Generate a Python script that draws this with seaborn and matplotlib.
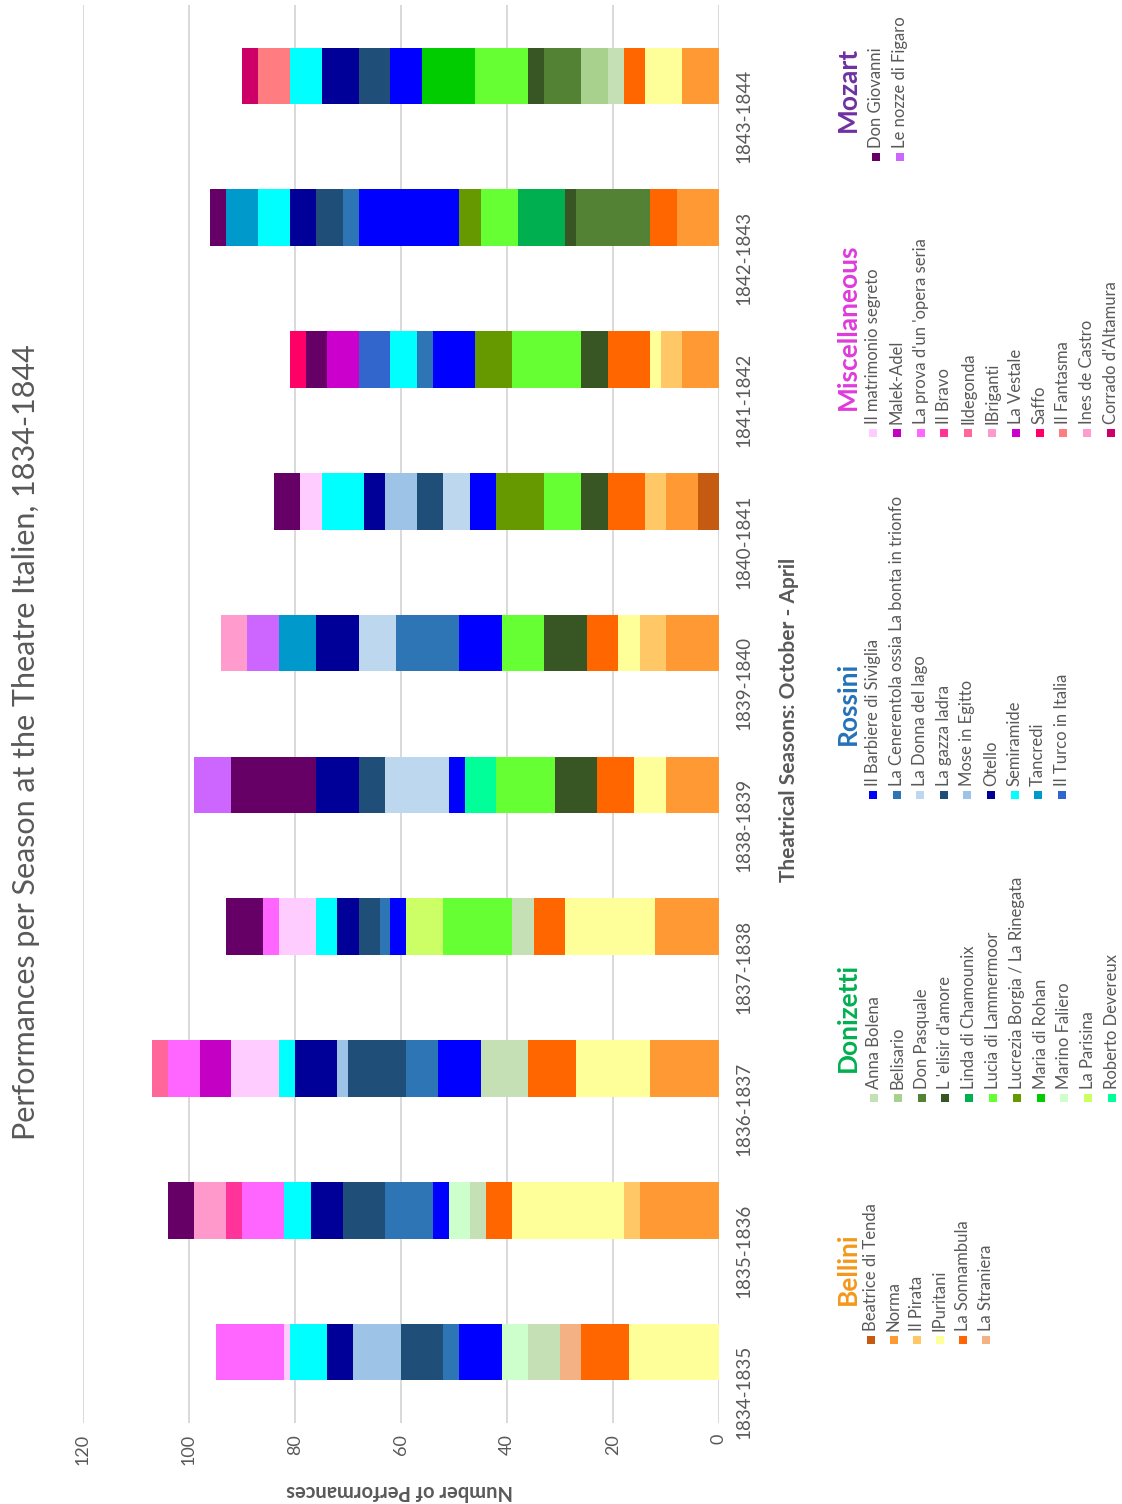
import numpy as np
import pandas as pd
import matplotlib
matplotlib.use("Agg")
import matplotlib.pyplot as plt
from matplotlib.patches import Rectangle
import seaborn as sns

# ---------------------------------------------------------------- data
seasons = ["1834-1835", "1835-1836", "1836-1837", "1837-1838", "1838-1839",
           "1839-1840", "1840-1841", "1841-1842", "1842-1843", "1843-1844"]

bellini = {
    "Beatrice di Tenda": [0, 0, 0, 0, 0, 0, 4, 0, 0, 0],
    "Norma":             [0, 15, 13, 12, 10, 10, 6, 7, 8, 7],
    "Il Pirata":         [0, 3, 0, 0, 0, 5, 4, 4, 0, 0],
    "IPuritani":         [17, 21, 14, 17, 6, 4, 0, 2, 0, 7],
    "La Sonnambula":     [9, 5, 9, 6, 7, 6, 7, 8, 5, 4],
    "La Straniera":      [4, 0, 0, 0, 0, 0, 0, 0, 0, 0],
}
bellini_colors = ["#C55A11", "#FF9933", "#FFC766", "#FFFF99", "#FF6600", "#F4B183"]

donizetti = {
    "Anna Bolena":                   [6, 3, 9, 4, 0, 0, 0, 0, 0, 3],
    "Belisario":                     [0, 0, 0, 0, 0, 0, 0, 0, 0, 5],
    "Don Pasquale":                  [0, 0, 0, 0, 0, 0, 0, 0, 14, 7],
    "L 'elisir d'amore":             [0, 0, 0, 0, 8, 8, 5, 5, 2, 3],
    "Linda di Chamounix":            [0, 0, 0, 0, 0, 0, 0, 0, 9, 0],
    "Lucia di Lammermoor":           [0, 0, 0, 13, 11, 8, 7, 13, 7, 10],
    "Lucrezia Borgia / La Rinegata": [0, 0, 0, 0, 0, 0, 9, 7, 4, 0],
    "Maria di Rohan":                [0, 0, 0, 0, 0, 0, 0, 0, 0, 10],
    "Marino Faliero":                [5, 4, 0, 0, 0, 0, 0, 0, 0, 0],
    "La Parisina":                   [0, 0, 0, 7, 0, 0, 0, 0, 0, 0],
    "Roberto Devereux":              [0, 0, 0, 0, 6, 0, 0, 0, 0, 0],
}
donizetti_colors = ["#C5E0B4", "#A9D18E", "#548235", "#375623", "#00B050", "#66FF33",
                    "#669900", "#00CC00", "#CCFFCC", "#CCFF66", "#00FF99"]

rossini = {
    "Il Barbiere di Siviglia":                      [8, 3, 8, 3, 3, 8, 5, 8, 19, 6],
    "La Cenerentola ossia La bonta in trionfo":     [3, 9, 6, 2, 0, 12, 0, 3, 3, 0],
    "La Donna del lago":                            [0, 0, 0, 0, 12, 7, 5, 0, 0, 0],
    "La gazza ladra":                               [8, 8, 11, 4, 5, 0, 5, 0, 5, 6],
    "Mose in Egitto":                               [9, 0, 2, 0, 0, 0, 6, 0, 0, 0],
    "Otello":                                       [5, 6, 8, 4, 8, 8, 4, 0, 5, 7],
    "Semiramide":                                   [7, 5, 3, 4, 0, 0, 8, 5, 6, 6],
    "Tancredi":                                     [0, 0, 0, 0, 0, 7, 0, 0, 6, 0],
    "Il Turco in Italia":                           [0, 0, 0, 0, 0, 0, 0, 6, 0, 0],
}
rossini_colors = ["#0000FF", "#2E75B6", "#BDD7EE", "#1F4E79", "#9DC3E6", "#000099",
                  "#00FFFF", "#0099CC", "#3366CC"]

miscellaneous = {
    "Il matrimonio segreto":       [1, 0, 9, 7, 0, 0, 4, 0, 0, 0],
    "Malek-Adel":                  [0, 0, 6, 0, 0, 0, 0, 0, 0, 0],
    "La prova d'un 'opera seria":  [13, 8, 6, 3, 0, 0, 0, 0, 0, 0],
    "Il Bravo":                    [0, 3, 0, 0, 0, 0, 0, 0, 0, 0],
    "Ildegonda":                   [0, 0, 3, 0, 0, 0, 0, 0, 0, 0],
    "IBriganti":                   [0, 6, 0, 0, 0, 0, 0, 0, 0, 0],
    "La Vestale":                  [0, 0, 0, 0, 0, 0, 0, 6, 0, 0],
    "Saffo":                       [0, 0, 0, 0, 0, 0, 0, 3, 0, 0],
    "Il Fantasma":                 [0, 0, 0, 0, 0, 0, 0, 0, 0, 6],
    "Ines de Castro":              [0, 0, 0, 0, 0, 5, 0, 0, 0, 0],
    "Corrado d'Altamura":          [0, 0, 0, 0, 0, 0, 0, 0, 0, 3],
}
misc_colors = ["#FFCCFF", "#C400C4", "#FF66FF", "#FF3399", "#FF6699", "#FF99CC",
               "#CC00CC", "#FF0066", "#FF7C80", "#FF9BCD", "#CC0066"]

mozart = {
    "Don Giovanni":         [0, 5, 0, 7, 16, 0, 5, 4, 3, 0],
    "Le nozze di Figaro":   [0, 0, 0, 0, 7, 6, 0, 0, 0, 0],
}
mozart_colors = ["#660066", "#CC66FF"]

groups = [
    ("Bellini", bellini, bellini_colors, "#F4971C"),
    ("Donizetti", donizetti, donizetti_colors, "#00B050"),
    ("Rossini", rossini, rossini_colors, "#2472B8"),
    ("Miscellaneous", miscellaneous, misc_colors, "#E03ADB"),
    ("Mozart", mozart, mozart_colors, "#7030A0"),
]

values, colors = {}, {}
for _, table, cols, _ in groups:
    for (name, vals), col in zip(table.items(), cols):
        values[name] = np.array(vals, dtype=float)
        colors[name] = col

# stacking order of the series within each season bar
misc_names = list(miscellaneous)
stack = (list(bellini) + list(donizetti) + list(rossini)
         + misc_names[:7] + list(mozart) + misc_names[7:])

# ---------------------------------------------------------------- style
sns.set_theme(style="white")
plt.rcParams["font.family"] = ["Lato", "DejaVu Sans"]
GREY = "#595959"

W, H = 1122, 1504
fig = plt.figure(figsize=(W / 100, H / 100), dpi=100)
fig.patch.set_facecolor("white")

ax = fig.add_axes([83 / W, 1 - 1423 / H, 636 / W, 1418 / H])

# stacked horizontal bars: cumulative totals drawn from the top series down
order = seasons[::-1]
running = np.zeros(len(seasons))
cumulative = []
for name in stack:
    running = running + values[name]
    cumulative.append((name, running.copy()))

for name, tot in reversed(cumulative):
    df = pd.DataFrame({"season": seasons, "total": tot})
    sns.barplot(data=df, x="total", y="season", order=order, orient="h",
                color=colors[name], saturation=1, width=0.4, linewidth=0,
                errorbar=None, ax=ax)

ax.set_xlim(120, 0)
ax.set_ylim(len(seasons) - 0.5, -0.5)
ax.set_xticks(range(0, 121, 20))
ax.set_axisbelow(True)
ax.grid(axis="x", color="#D9D9D9", linewidth=1.4)
ax.grid(axis="y", visible=False)
for sp in ax.spines.values():
    sp.set_visible(False)

ax.set_xlabel("")
ax.set_ylabel("")
ax.tick_params(axis="x", length=0, labelrotation=90, pad=8,
               labelsize=13, labelcolor=GREY)
ax.yaxis.tick_right()
ax.tick_params(axis="y", length=0, labelrotation=90, pad=12,
               labelsize=13.5, labelcolor=GREY)

# axis titles
fig.text(400 / W, 1 - 1491 / H, "Number of Performances", rotation=180,
         ha="center", va="center", fontsize=14.5, fontweight="bold", color=GREY)
fig.text(789 / W, 1 - 720 / H, "Theatrical Seasons: October - April", rotation=90,
         ha="center", va="center", fontsize=15, fontweight="bold", color=GREY)

# chart title
fig.text(26 / W, 1 - 742 / H, "Performances per Season at the Theatre Italien, 1834-1844",
         rotation=90, ha="center", va="center", fontsize=22, color=GREY)

# ---------------------------------------------------------------- legend
legend_layout = {
    "Bellini":       dict(title_y=1305, sq_y=1340, x0=871, dx=23.0),
    "Donizetti":     dict(title_y=1072, sq_y=1098, x0=874, dx=23.8),
    "Rossini":       dict(title_y=745, sq_y=795, x0=873, dx=23.6),
    "Miscellaneous": dict(title_y=410, sq_y=433, x0=873, dx=23.8),
    "Mozart":        dict(title_y=132, sq_y=157, x0=876, dx=24.0),
}

for title, table, cols, tcol in groups:
    lay = legend_layout[title]
    fig.text(848 / W, 1 - lay["title_y"] / H, title, rotation=90,
             rotation_mode="anchor", ha="left", va="center",
             fontsize=19, fontweight="bold", color=tcol)
    for i, (name, col) in enumerate(zip(table, cols)):
        x = lay["x0"] + i * lay["dx"]
        y = lay["sq_y"]
        fig.patches.append(Rectangle(((x - 4) / W, 1 - (y + 4) / H), 8 / W, 8 / H,
                                     transform=fig.transFigure, facecolor=col,
                                     edgecolor="none"))
        fig.text(x / W, 1 - (y - 9) / H, name, rotation=90, rotation_mode="anchor",
                 ha="left", va="center", fontsize=12, color=GREY)

fig.savefig("out.png", dpi=100, facecolor="white")
